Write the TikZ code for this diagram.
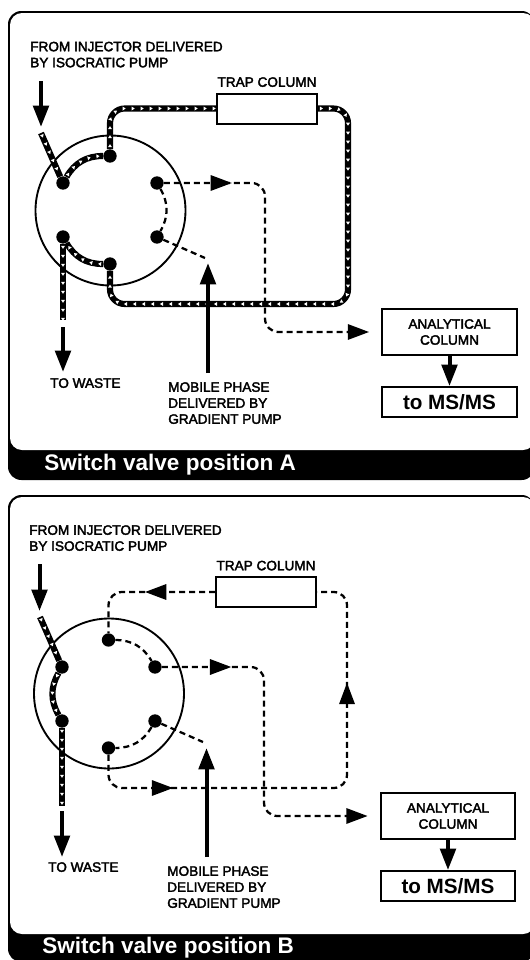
\documentclass[tikz,border=0pt]{standalone}
\usepackage{fontspec}
\setmainfont{Liberation Sans}
\newfontfamily\labelfam[FakeBold=2.5]{Liberation Sans}
\usetikzlibrary{positioning,arrows.meta,decorations.markings}

\tikzset{
    bigtip/.tip={Triangle[length=16pt,width=11.5pt]},
    panelout/.style={fill=black, rounded corners=10pt},
    panelin/.style={fill=white, rounded corners=9pt},
    bartext/.style={text=white, anchor=west, inner sep=0pt, font=\fontsize{16.9}{20}\selectfont\bfseries},
    label/.style={anchor=north west, inner sep=0pt, align=left, font=\fontsize{10.2}{12}\selectfont\labelfam},
    boxtext/.style={draw, line width=1.6pt, minimum width=101pt, align=center, inner sep=0pt},
    trapbox/.style={draw, line width=1.5pt, minimum width=75pt, minimum height=22.5pt},
    valve/.style={draw, circle, line width=1.4pt, minimum size=112.5pt},
    port/.style={circle, fill=black, inner sep=0pt, minimum size=10pt},
    bigarrow/.style={line width=3pt, -bigtip},
    dashflow/.style={line width=1.7pt, dash pattern=on 4.5pt off 3pt},
    headat/.style={postaction={decorate, decoration={markings, mark=at position #1 with {\arrow{bigtip}}}}},
    flowline/.style={line width=4.6pt, postaction={decorate, decoration={markings,
        mark=between positions 2.5pt and 1 step 6.75pt with {\fill[white, sharp corners] (-1.1pt,-1.5pt) -- (1.2pt,0pt) -- (-1.1pt,1.5pt) -- cycle;}}}}
}

\begin{document}
\begin{tikzpicture}[x=0.75pt, y=-0.75pt]
    \useasboundingbox (0,0) rectangle (529,960);

    \path[panelout] (8,11) rectangle (535,480);
    \path[panelin] (10,13) rectangle (535,450);
    \node[bartext] (barA) at (44,465) {Switch valve position A};

    \node[valve] (valveA) at (110.5,210.5) {};
    \node[port] (a1) at (63,183) {};
    \node[port] (a2) at (110,156) {};
    \node[port] (a3) at (157,183) {};
    \node[port] (a4) at (157,237) {};
    \node[port] (a5) at (110,264) {};
    \node[port] (a6) at (63,237) {};

    \node[trapbox] (trapA) at (267,108.5) {};
    \node[font=\fontsize{10.2}{12}\selectfont\labelfam, inner sep=0pt, above=4pt of trapA] (trapnameA) {TRAP COLUMN};
    \node[boxtext, minimum height=34.5pt, font=\fontsize{10.2}{12}\selectfont\labelfam] (analyticalA) at (449.5,332) {ANALYTICAL\\COLUMN};
    \node[boxtext, minimum height=22.5pt, font=\fontsize{15.5}{18}\selectfont\bfseries, below=22.5pt of analyticalA] (msA) {to MS/MS};

    \node[label] (fromA) at (30,41.5) {FROM INJECTOR DELIVERED\\BY ISOCRATIC PUMP};
    \node[label] (wasteA) at (50,378) {TO WASTE};
    \node[label] (mobileA) at (168,382) {MOBILE PHASE\\DELIVERED BY\\GRADIENT PUMP};

    \coordinate (injtopA) at (41,81);
    \coordinate (injtipA) at (41,127);
    \coordinate (injendA) at (41,133);
    \coordinate (wasteendA) at (63,320);
    \coordinate (wastetopA) at (63,327);
    \coordinate (wastetipA) at (63,372);
    \coordinate (gradbaseA) at (208,373);
    \coordinate (gradtipA) at (208,263);
    \coordinate (gradendA) at (205,258);
    \coordinate (cornerA) at (348,304);
    \coordinate (bendA) at (265,332);

    \draw[bigarrow] (injtopA) -- (injtipA);
    \draw[flowline] (injendA) -- (a1);
    \draw[flowline] (a1) to[bend left=30] (a2);
    \draw[flowline, rounded corners=11pt] (a2) |- (trapA.west);
    \draw[flowline, rounded corners=11pt] (trapA.east) -| (cornerA) -| (a5);
    \draw[flowline] (a5) to[bend left=30] (a6);
    \draw[flowline] (a6) -- (wasteendA);
    \draw[bigarrow] (wastetopA) -- (wastetipA);
    \draw[bigarrow] (gradbaseA) -- (gradtipA);
    \draw[dashflow] (a3) to[bend left=30] (a4);
    \draw[dashflow] (a4) -- (gradendA);
    \draw[dashflow, rounded corners=10pt, headat=51pt, -bigtip, shorten >=9pt] (a3) -| (bendA) -- (analyticalA.west);
    \draw[bigarrow] (analyticalA) -- (msA);

    \path[panelout] (8,495) rectangle (535,962);
    \path[panelin] (10,497) rectangle (535,934);
    \node[bartext] (barB) at (42,948) {Switch valve position B};

    \node[valve] (valveB) at (109,693.5) {};
    \node[port] (b1) at (62,667) {};
    \node[port] (b2) at (108.5,640) {};
    \node[port] (b3) at (155,667) {};
    \node[port] (b4) at (155,721) {};
    \node[port] (b5) at (108.5,748) {};
    \node[port] (b6) at (62,721) {};

    \node[trapbox] (trapB) at (266,592) {};
    \node[font=\fontsize{10.2}{12}\selectfont\labelfam, inner sep=0pt, above=4pt of trapB] (trapnameB) {TRAP COLUMN};
    \node[boxtext, minimum height=34.5pt, font=\fontsize{10.2}{12}\selectfont\labelfam] (analyticalB) at (448,816) {ANALYTICAL\\COLUMN};
    \node[boxtext, minimum height=22.5pt, font=\fontsize{15.5}{18}\selectfont\bfseries, below=22.5pt of analyticalB] (msB) {to MS/MS};

    \node[label] (fromB) at (29,525) {FROM INJECTOR DELIVERED\\BY ISOCRATIC PUMP};
    \node[label] (wasteB) at (48,862) {TO WASTE};
    \node[label] (mobileB) at (167,866) {MOBILE PHASE\\DELIVERED BY\\GRADIENT PUMP};

    \coordinate (injtopB) at (39.5,564);
    \coordinate (injtipB) at (39.5,611);
    \coordinate (injendB) at (40,617);
    \coordinate (wasteendB) at (62,806);
    \coordinate (wastetopB) at (62,811);
    \coordinate (wastetipB) at (62,857);
    \coordinate (gradbaseB) at (206.5,857);
    \coordinate (gradtipB) at (206.5,748);
    \coordinate (gradendB) at (203,742);
    \coordinate (cornerB) at (347,788);
    \coordinate (bendB) at (264,816);

    \draw[bigarrow] (injtopB) -- (injtipB);
    \draw[flowline] (injendB) -- (b1);
    \draw[flowline] (b1) to[bend right=30] (b6);
    \draw[flowline] (b6) -- (wasteendB);
    \draw[bigarrow] (wastetopB) -- (wastetipB);
    \draw[bigarrow] (gradbaseB) -- (gradtipB);
    \draw[dashflow, rounded corners=10pt, headat=69pt, headat=274pt] (b5) |- (cornerB) |- (trapB.east);
    \draw[dashflow, rounded corners=10pt, headat=52.5pt] (trapB.west) -| (b2);
    \draw[dashflow] (b2) to[bend left=30] (b3);
    \draw[dashflow] (b4) to[bend left=30] (b5);
    \draw[dashflow] (b4) -- (gradendB);
    \draw[dashflow, rounded corners=10pt, headat=52pt, -bigtip, shorten >=9pt] (b3) -| (bendB) -- (analyticalB.west);
    \draw[bigarrow] (analyticalB) -- (msB);
\end{tikzpicture}
\end{document}
